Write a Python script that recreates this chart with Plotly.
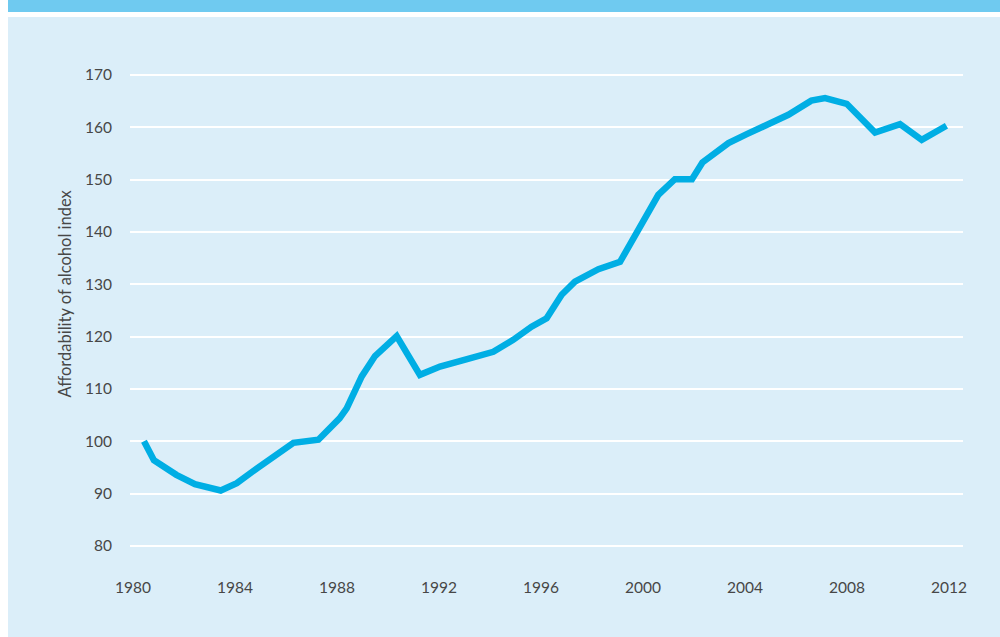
import plotly.graph_objects as go

# Data
years = [1980.43, 1980.82, 1981.7, 1982.43, 1983.44, 1984.07, 1984.85, 1985.57, 1986.29,
         1987.27, 1988.1, 1988.38, 1988.97, 1989.49, 1990.34, 1991.25, 1992.04, 1993.1,
         1994.13, 1994.91, 1995.63, 1996.22, 1996.81, 1997.33, 1998.25, 1999.1, 1999.88,
         2000.6, 2001.25, 2001.92, 2002.33, 2003.35, 2004.07, 2004.85, 2005.7, 2006.6,
         2007.14, 2007.99, 2008.5, 2009.1, 2010.08, 2010.93, 2011.9]
index_vals = [100.0, 96.4, 93.6, 91.8, 90.6, 92.0, 94.8, 97.1, 99.7,
              100.3, 104.4, 106.3, 112.4, 116.3, 120.1, 112.7, 114.3, 115.7,
              117.1, 119.4, 121.9, 123.5, 128.0, 130.5, 132.9, 134.3, 141.0,
              147.1, 150.1, 150.1, 153.3, 157.0, 158.7, 160.6, 162.4, 165.1,
              165.6, 164.5, 162.0, 159.0, 160.6, 157.6, 160.3]

x_ticks = [1980, 1984, 1988, 1992, 1996, 2000, 2004, 2008, 2012]
y_ticks = [80, 90, 100, 110, 120, 130, 140, 150, 160, 170]
y_title = "Affordability of alcohol index"

W, H = 1000, 637
ML, MR, MT, MB = 130, 37, 60, 77
PW, PH = W - ML - MR, H - MT - MB

def px(x):
    return (x - ML) / PW

def py(y):
    return (H - MB - y) / PH

BG = "#dbeef9"
BAR = "#6fcaf0"
LINE = "#00aee4"
TXT = "#474747"
FONT = "Lato"

fig = go.Figure()
fig.add_trace(go.Scatter(
    x=years, y=index_vals, mode="lines",
    line=dict(color=LINE, width=6.5, shape="linear"),
    hoverinfo="skip", showlegend=False,
))

shapes = [
    # white left border
    dict(type="rect", xref="paper", yref="paper", x0=px(0), x1=px(8), y0=py(H), y1=py(0),
         fillcolor="white", line=dict(width=0), layer="below"),
    # white strip under the top bar
    dict(type="rect", xref="paper", yref="paper", x0=px(0), x1=px(W), y0=py(17), y1=py(12),
         fillcolor="white", line=dict(width=0), layer="below"),
    # top bar
    dict(type="rect", xref="paper", yref="paper", x0=px(8), x1=px(W), y0=py(12), y1=py(0),
         fillcolor=BAR, line=dict(width=0), layer="below"),
]

fig.update_layout(
    width=W, height=H,
    margin=dict(l=ML, r=MR, t=MT, b=MB),
    paper_bgcolor=BG, plot_bgcolor=BG,
    font=dict(family=FONT, size=15.5, color=TXT),
    shapes=shapes,
    showlegend=False,
    xaxis=dict(
        range=[1979.882, 2012.549], tickvals=x_ticks, ticktext=[str(t) for t in x_ticks],
        showgrid=False, zeroline=False, showline=False,
        ticks="outside", ticklen=13, tickcolor="rgba(0,0,0,0)",
        tickfont=dict(family=FONT, size=15.5, color=TXT), fixedrange=True,
    ),
    yaxis=dict(
        range=[77.32, 172.87], tickvals=y_ticks, ticktext=[str(t) for t in y_ticks],
        showgrid=True, gridcolor="white", gridwidth=1.5, zeroline=False, showline=False,
        ticks="outside", ticklen=14, tickcolor="rgba(0,0,0,0)",
        tickfont=dict(family=FONT, size=15.5, color=TXT), fixedrange=True,
    ),
    annotations=[dict(
        text=y_title, xref="paper", yref="paper", x=px(64), y=py(293.5),
        textangle=-90, showarrow=False, xanchor="center", yanchor="middle",
        font=dict(family=FONT, size=16.5, color=TXT),
    )],
)

fig.write_html(
    "out.html",
    config={"displayModeBar": False},
    post_script="document.body.style.margin='0';document.body.style.overflow='hidden';",
)
